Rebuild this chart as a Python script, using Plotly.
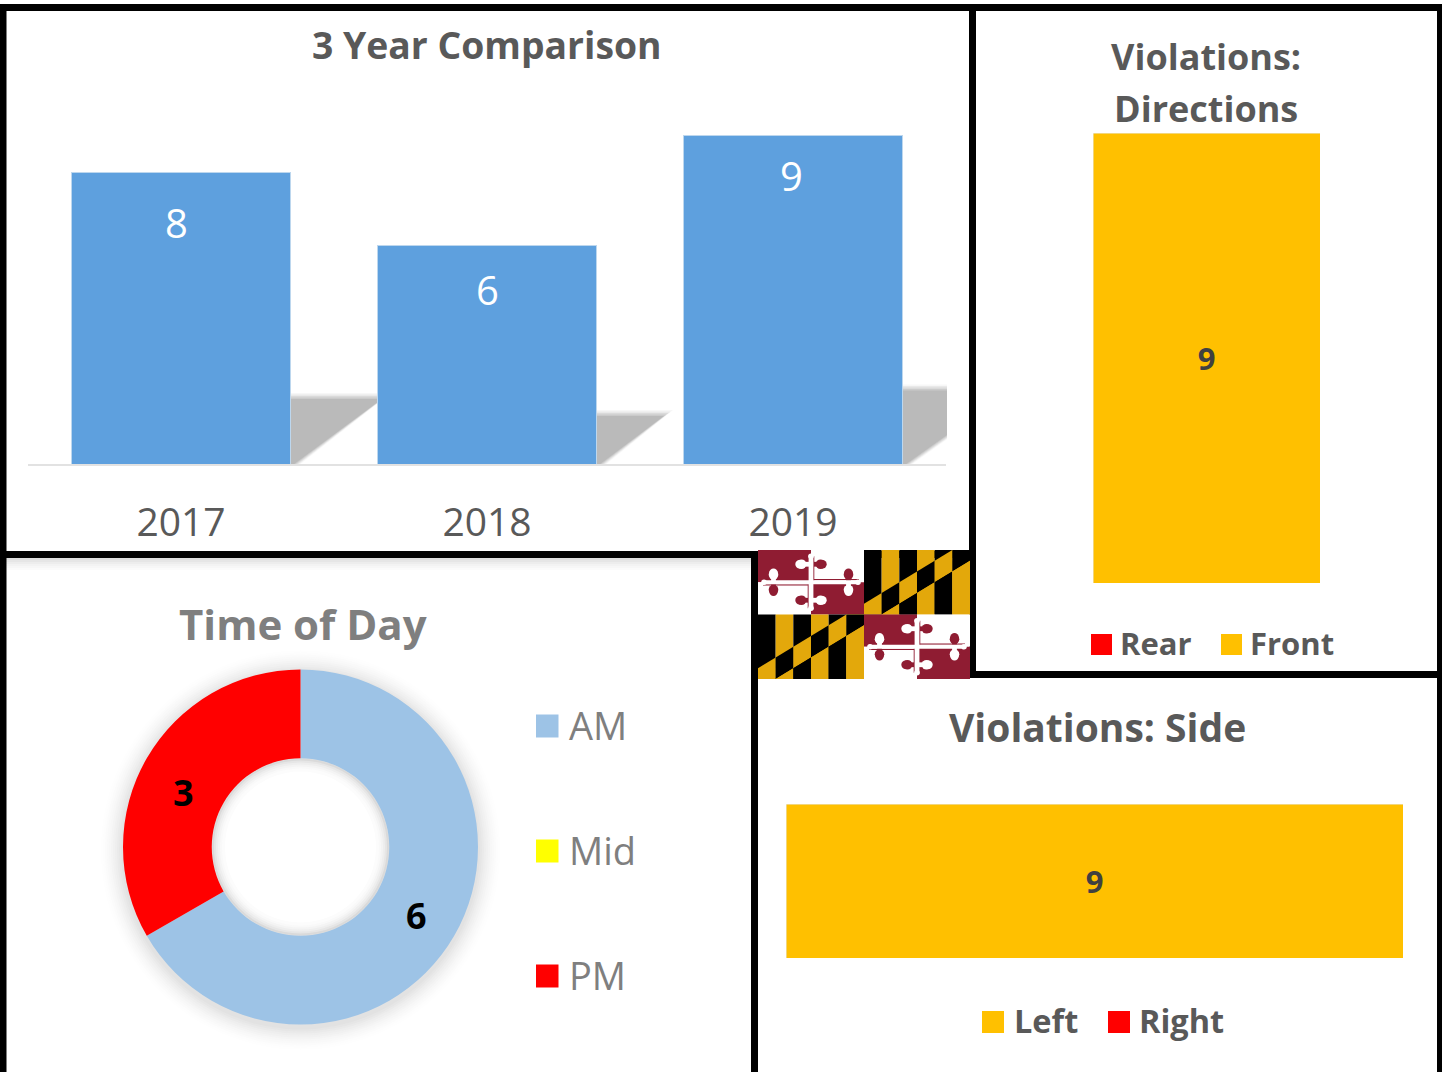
import math
import plotly.graph_objects as go

W, H = 1442, 1072
FONT = "Open Sans"

# ---- data ----
years = ["2017", "2018", "2019"]
year_counts = [8, 6, 9]
direction_names = ["Rear", "Front"]
direction_counts = [0, 9]
side_names = ["Left", "Right"]
side_counts = [9, 0]
time_names = ["AM", "Mid", "PM"]
time_counts = [6, 0, 3]

BLUE = "#5EA0DE"
GOLD = "#FFC000"
RED = "#FF0000"
YELLOW = "#FFFF00"
LIGHTBLUE = "#9DC3E6"
DARK = "#595959"
MID = "#7F7F7F"
FLAG_RED = "#8F1C32"
FLAG_GOLD = "#E3A80B"


def px(x):
    return x / W


def py(y):
    return 1 - y / H


shapes_below, shapes_above, annos = [], [], []


def poly(points, color, store):
    d = "M" + " L".join(f"{px(x):.5f},{py(y):.5f}" for x, y in points) + " Z"
    store.append(dict(type="path", xref="paper", yref="paper", path=d,
                      fillcolor=color, line=dict(width=0)))


def rect(x0, y0, x1, y1, color, store):
    store.append(dict(type="rect", xref="paper", yref="paper", x0=px(x0), x1=px(x1),
                      y0=py(y0), y1=py(y1), fillcolor=color, line=dict(width=0)))


def disk(cx, cy, r, color, store):
    store.append(dict(type="circle", xref="paper", yref="paper", x0=px(cx - r), x1=px(cx + r),
                      y0=py(cy + r), y1=py(cy - r), fillcolor=color, line=dict(width=0)))


def text(x, y, s, size, color, bold=False, anchor="center", weight=None):
    annos.append(dict(xref="paper", yref="paper", x=px(x), y=py(y), text=s, showarrow=False,
                      xanchor=anchor, yanchor="middle",
                      font=dict(family=FONT, size=size, color=color,
                                weight=weight or (700 if bold else 400))))


fig = go.Figure()

# ---- panel 1: bars ----
P1_L, P1_R, P1_BASE, P1_TOP = 28, 946, 464, 99
fig.add_trace(go.Bar(x=years, y=year_counts, width=0.714, marker=dict(color=BLUE, line=dict(color="#BDD7EE", width=1)),
                     xaxis="x", yaxis="y", showlegend=False, hoverinfo="skip"))
unit_x = (P1_R - P1_L) / len(years)
SH_UNIT, SH_SLOPE, SH_CLIP = 8.5, 0.71, 947
for i, v in enumerate(year_counts):
    xr = P1_L + unit_x * (i + 0.5) + 0.357 * unit_x
    h = v * SH_UNIT
    for d, c in zip([6, 4.5, 3, 1.5, 0], ["#F7F7F7", "#E9E9E9", "#DADADA", "#CACACA", "#BABABA"]):
        top = P1_BASE - h - d + 3
        tip = xr + (h - 3) / SH_SLOPE + d * 1.5
        start = xr + 4 + d * 1.0
        if tip > SH_CLIP:
            yc = P1_BASE - SH_SLOPE * (SH_CLIP - start)
            pts = [(xr, top), (SH_CLIP, top), (SH_CLIP, yc), (start, P1_BASE), (xr, P1_BASE)]
        else:
            pts = [(xr, top), (tip, top), (start, P1_BASE), (xr, P1_BASE)]
        poly(pts, c, shapes_below)

label_pos = [(176, 222), (487, 289), (791, 175)]
for (lx, ly), v in zip(label_pos, year_counts):
    text(lx, ly, str(v), 40, "#FFFFFF")
text(487, 45, "3 Year Comparison", 37.3, DARK, bold=True)

# ---- panel 2: vertical stacked bar ----
for name, v, c in zip(direction_names, direction_counts, [RED, GOLD]):
    fig.add_trace(go.Bar(x=["Directions"], y=[v], width=1, name=name, marker=dict(color=c),
                         text=[str(v) if v else ""], textposition="inside", insidetextanchor="middle",
                         textangle=0, constraintext="none",
                         textfont=dict(family=FONT, size=31, color="#404040", weight=700),
                         xaxis="x2", yaxis="y2", showlegend=False, hoverinfo="skip"))
text(1206, 56, "Violations:", 36, DARK, bold=True)
text(1206, 108, "Directions", 36, DARK, bold=True)
for (sx, tx), name, c in zip([(1091, 1121), (1221, 1251)], direction_names, [RED, GOLD]):
    rect(sx, 634, sx + 21, 655, c, shapes_below)
    text(tx - 3, 643, name, 31, DARK, bold=True, anchor="left")

# ---- panel 4: horizontal stacked bar ----
for name, v, c in zip(side_names, side_counts, [GOLD, RED]):
    fig.add_trace(go.Bar(y=["Side"], x=[v], width=1, orientation="h", name=name, marker=dict(color=c),
                         text=[str(v) if v else ""], textposition="inside", insidetextanchor="middle",
                         textangle=0, constraintext="none",
                         textfont=dict(family=FONT, size=31, color="#404040", weight=700),
                         xaxis="x3", yaxis="y3", showlegend=False, hoverinfo="skip"))
text(1097, 726, "Violations: Side", 39, DARK, bold=True)
for (sx, tx), name, c in zip([(982, 1015), (1108, 1140)], side_names, [GOLD, RED]):
    rect(sx, 1011, sx + 22, 1033, c, shapes_below)
    text(tx - 3, 1020, name, 32.5, DARK, bold=True, anchor="left")

# ---- panel 3: donut ----
CX, CY, R, HOLE = 300.5, 847, 177.5, 88.5
# soft shadow ladders
for r, c in zip(range(22, 0, -2), ["#FEFEFE", "#FDFDFD", "#FBFBFB", "#F9F9F9", "#F7F7F7", "#F4F4F4", "#F1F1F1", "#EEEEEE", "#EAEAEA", "#E6E6E6", "#E2E2E2"]):
    disk(CX, CY + 3, R + r, c, shapes_below)
for r, c in zip([0, -2, -4, -6, -8, -10, -13], ["#DADADA", "#E6E6E6", "#EEEEEE", "#F4F4F4", "#F9F9F9", "#FCFCFC", "#FFFFFF"]):
    disk(CX, CY, HOLE + r, c, shapes_below)

fig.add_trace(go.Pie(labels=time_names, values=time_counts, hole=0.5, sort=False, direction="clockwise",
                     rotation=0, marker=dict(colors=[LIGHTBLUE, YELLOW, RED], line=dict(width=0)),
                     textinfo="none", showlegend=False, hoverinfo="skip",
                     domain=dict(x=[px(CX - R), px(CX + R)], y=[py(CY + R), py(CY - R)])))
text(416, 915, str(time_counts[0]), 36, "#000000", bold=True)
text(183, 792, str(time_counts[2]), 36, "#000000", bold=True)
text(303, 623, "Time of Day", 42, MID, bold=True)
for y, name, c in zip([726, 851, 976], time_names, [LIGHTBLUE, YELLOW, RED]):
    rect(536, y - 11.5, 558.5, y + 11.5, c, shapes_below)
    text(567, y - 1, name, 38, MID, anchor="left")

# ---- panel borders ----
BK = "#000000"
# faint glow under the top panel's lower border
for k, c in enumerate(["#DDDDDD", "#E6E6E6", "#EDEDED", "#F3F3F3", "#F7F7F7", "#FBFBFB"]):
    rect(6, 558 + 2 * k, 751, 560 + 2 * k, c, shapes_below)
for b in [(0, 4, 976, 11), (0, 4, 6.5, 1072), (969, 4, 976, 678), (976, 4, 1442, 11),
          (1437, 4, 1442, 1072), (0, 551, 976, 558), (751, 551, 758, 1072), (970, 671, 1442, 678)]:
    rect(*b, BK, shapes_above)


# ---- Maryland flag ----
def calvert(x0, y0, w, h):
    def P(u, v):
        return (x0 + u * w, y0 + (1 - v) * h)
    for i in range(6):
        a, b = i / 6, (i + 1) / 6
        above = BK if i % 2 == 0 else FLAG_GOLD
        band = FLAG_GOLD if i % 2 == 0 else BK
        below = BK if i % 2 == 0 else FLAG_GOLD
        hi_a, hi_b = min(1, a + 1 / 6), min(1, b + 1 / 6)
        lo_a, lo_b = max(0, a - 1 / 6), max(0, b - 1 / 6)
        rect(x0 + a * w, y0, x0 + b * w, y0 + h, above, shapes_above)
        poly([P(a, hi_a), P(b, hi_b), P(b, lo_b), P(a, lo_a)], band, shapes_above)
        poly([P(a, lo_a), P(b, lo_b), P(b, 0), P(a, 0)], below, shapes_above)


def crossland(x0, y0, w, h):
    cx, cy = x0 + w / 2, y0 + h / 2
    rect(x0, y0, cx, cy, FLAG_RED, shapes_above)
    rect(cx, y0, x0 + w, cy, "#FFFFFF", shapes_above)
    rect(x0, cy, cx, y0 + h, "#FFFFFF", shapes_above)
    rect(cx, cy, x0 + w, y0 + h, FLAG_RED, shapes_above)
    W_COL = "#FFFFFF"
    for sx, sy, c in [(-1, -1, W_COL), (1, -1, FLAG_RED), (-1, 1, FLAG_RED), (1, 1, W_COL)]:
        # lobes with stems
        lx, ly = cx + sx * 37.5, cy + sy * 7.5
        poly([(lx - 2.4, cy), (lx + 2.4, cy), (lx + 2.4, ly), (lx - 2.4, ly)], c, shapes_above)
        disk(lx, ly, 4.8, c, shapes_above)
        disk(lx, cy + sy * 9.5, 4.2, c, shapes_above)
        vx, vy = cx + sx * 9.5, cy + sy * 18
        poly([(cx, vy - 2.4), (vx, vy - 2.4), (vx, vy + 2.4), (cx, vy + 2.4)], c, shapes_above)
        disk(vx, vy, 4.8, c, shapes_above)
        disk(cx + sx * 11.5, vy, 4.2, c, shapes_above)
        # outline of the arm on the white quarters
        if c != W_COL:
            rect(min(cx, cx + sx * 48), min(cy + sy * 1.9, cy + sy * 3.3), max(cx, cx + sx * 48), max(cy + sy * 1.9, cy + sy * 3.3), c, shapes_above)
            rect(min(cx + sx * 1.9, cx + sx * 3.3), min(cy, cy + sy * 26), max(cx + sx * 1.9, cx + sx * 3.3), max(cy, cy + sy * 26), c, shapes_above)
    # white arms of the cross on top
    rect(cx - 48, cy - 2, cx + 48, cy + 2, W_COL, shapes_above)
    rect(cx - 2.4, cy - 27, cx + 2.4, cy + 27, W_COL, shapes_above)
    # arm tips
    for dx in (-47, 47):
        disk(cx + dx, cy, 2.8, W_COL, shapes_above)
    for dy in (-26, 26):
        disk(cx, cy + dy, 2.8, W_COL, shapes_above)


FX, FY, FW, FH = 758, 550, 106, 64.5
crossland(FX, FY, FW, FH)
calvert(FX + FW, FY, FW, FH)
calvert(FX, FY + FH, FW, FH)
crossland(FX + FW, FY + FH, FW, FH)

hidden = dict(visible=False, fixedrange=True)
fig.update_layout(
    width=W, height=H, autosize=False, margin=dict(l=0, r=0, t=0, b=0),
    paper_bgcolor="#FFFFFF", plot_bgcolor="rgba(0,0,0,0)", barmode="stack",
    font=dict(family=FONT), hovermode=False,
    shapes=[dict(s, layer="below") for s in shapes_below] + [dict(s, layer="above") for s in shapes_above],
    annotations=annos,
    xaxis=dict(domain=[px(P1_L), px(P1_R)], anchor="y", type="category", showgrid=False, zeroline=False,
               showline=True, linecolor="#E2E2E2", linewidth=2, ticks="", ticklabelstandoff=23,
               tickfont=dict(family=FONT, size=39, color=DARK)),
    yaxis=dict(domain=[py(P1_BASE), py(P1_TOP)], anchor="x", range=[0, 10], **hidden),
    xaxis2=dict(domain=[px(1093), px(1320)], anchor="y2", range=[-0.5, 0.5], type="category", **hidden),
    yaxis2=dict(domain=[py(583), py(133)], anchor="x2", range=[0, 9], **hidden),
    xaxis3=dict(domain=[px(786), px(1403)], anchor="y3", range=[0, 9], **hidden),
    yaxis3=dict(domain=[py(958), py(804)], anchor="x3", range=[-0.5, 0.5], type="category", **hidden),
)
fig.write_html("out.html", config=dict(displayModeBar=False),
               post_script="document.body.style.margin='0';document.body.style.overflow='hidden';")
